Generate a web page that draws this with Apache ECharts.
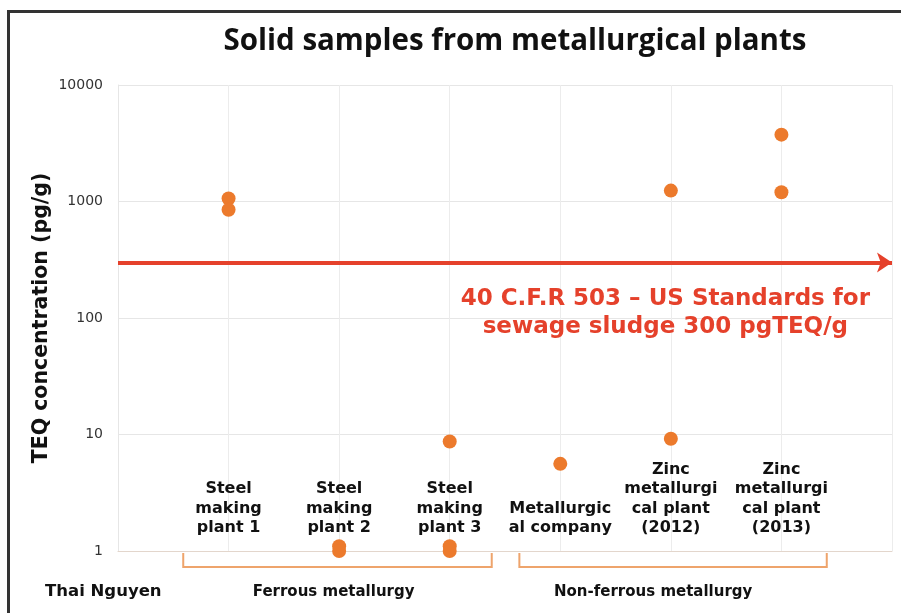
<!DOCTYPE html>
<html>
<head>
<meta charset="utf-8">
<script src="https://cdn.jsdelivr.net/npm/echarts@6/dist/echarts.min.js"></script>
<style>
html,body{margin:0;padding:0;background:#fff;}
#c{width:901px;height:613px;}
</style>
</head>
<body>
<div id="c"></div>
<script>
const categories = [
  'Steel\nmaking\nplant 1',
  'Steel\nmaking\nplant 2',
  'Steel\nmaking\nplant 3',
  'Metallurgic\nal company',
  'Zinc\nmetallurgi\ncal plant\n(2012)',
  'Zinc\nmetallurgi\ncal plant\n(2013)'
];
const sampleValues = [
  [1060, 850],
  [1.1, 1.0],
  [8.7, 1.1, 1.0],
  [5.6],
  [1240, 9.2],
  [3750, 1200]
];
const yTicks = [1, 10, 100, 1000, 10000];
const standardValue = 300;
const standardText = '40 C.F.R 503 \u2013 US Standards for\nsewage sludge 300 pgTEQ/g';
const groups = ['Ferrous metallurgy', 'Non-ferrous metallurgy'];
const groupSpans = [[0.59, 3.38], [3.63, 6.41]];
const groupLabelCenters = [1.95, 4.84];
const regionLabel = 'Thai Nguyen';

const points = [];
sampleValues.forEach((vals, i) => vals.forEach(v => points.push([i + 1, v])));

const chart = echarts.init(document.getElementById('c'));
const FONT = '"DejaVu Sans", "Liberation Sans", Arial, sans-serif';

chart.setOption({
  animation: false,
  backgroundColor: '#fff',
  title: {
    text: 'Solid samples from metallurgical plants',
    left: 510, top: 22, textAlign: 'center',
    textStyle: {fontFamily: '"Open Sans", sans-serif', fontWeight: 'bold', fontSize: 29.5, color: '#111'}
  },
  grid: {left: 118, right: 9, top: 85, bottom: 62},
  xAxis: {
    type: 'value', min: 0, max: 7, interval: 1,
    axisLine: {show: true, lineStyle: {color: '#e3d6cc'}},
    axisTick: {show: false},
    splitLine: {show: true, lineStyle: {color: '#ececec'}},
    axisLabel: {
      inside: true, margin: 13, verticalAlign: 'bottom',
      fontFamily: FONT, fontWeight: 'bold', fontSize: 16, lineHeight: 19.5, color: '#111',
      formatter: v => (v >= 1 && v <= categories.length) ? categories[v - 1] : ''
    }
  },
  yAxis: {
    type: 'log', logBase: 10, min: 1, max: 10000,
    name: 'TEQ concentration (pg/g)', nameLocation: 'middle', nameGap: 66,
    nameMoveOverlap: false,
    nameTextStyle: {fontFamily: FONT, fontWeight: 'bold', fontSize: 20.5, color: '#111'},
    axisLine: {show: true, lineStyle: {color: '#e6e6e6'}},
    axisTick: {show: false},
    splitLine: {show: true, lineStyle: {color: '#e6e6e6'}},
    axisLabel: {
      margin: 15, fontFamily: FONT, fontSize: 14, color: '#333',
      formatter: v => yTicks.indexOf(Math.round(v)) >= 0 ? String(Math.round(v)) : ''
    }
  },
  series: [{
    type: 'scatter',
    data: points,
    symbolSize: 14,
    itemStyle: {color: '#ec7a2c', opacity: 1},
    markLine: {
      silent: true,
      symbol: ['none', 'arrow'],
      symbolSize: [15, 15],
      label: {show: false},
      lineStyle: {color: '#e5412b', width: 4, type: 'solid'},
      data: [{yAxis: standardValue}]
    }
  }]
});

function px(x, y) { return chart.convertToPixel({gridIndex: 0}, [x, y]); }

const g = [];
// frame
g.push({type: 'rect', shape: {x: 7, y: 10, width: 3, height: 603}, style: {fill: '#333'}});
g.push({type: 'rect', shape: {x: 7, y: 10, width: 894, height: 3}, style: {fill: '#333'}});
// standard text
const tp = px(4.95, standardValue);
g.push({type: 'text', x: tp[0], y: tp[1] + 23, style: {
  text: standardText, align: 'center', verticalAlign: 'top',
  font: 'bold 23px ' + FONT, lineHeight: 28, fill: '#e5412b'
}});
// brackets
const axisY = px(1, 1)[1];
groupSpans.forEach((s, i) => {
  const a = px(s[0], 1), b = px(s[1], 1);
  g.push({type: 'polyline', shape: {points: [[a[0], axisY + 2], [a[0], axisY + 16], [b[0], axisY + 16], [b[0], axisY + 2]]},
    style: {stroke: '#eea46c', lineWidth: 2, fill: null}});
  const c = px(groupLabelCenters[i], 1);
  g.push({type: 'text', x: c[0], y: axisY + 41, style: {
    text: groups[i], align: 'center', verticalAlign: 'middle', font: 'bold 15px ' + FONT, fill: '#111'}});
});
g.push({type: 'text', x: 45, y: axisY + 41, style: {
  text: regionLabel, align: 'left', verticalAlign: 'middle', font: 'bold 16.5px ' + FONT, fill: '#111'}});
chart.setOption({graphic: g});
</script>
</body>
</html>
